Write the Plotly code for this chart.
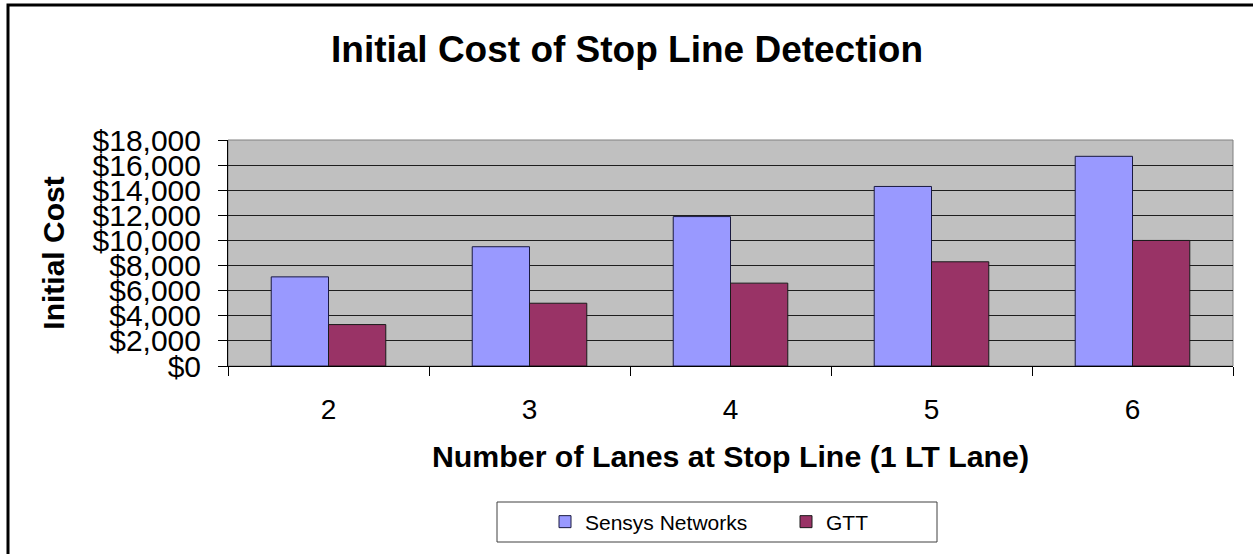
import plotly.graph_objects as go

categories = ["2", "3", "4", "5", "6"]
sensys_values = [7100, 9500, 11900, 14300, 16700]
gtt_values = [3300, 5000, 6600, 8300, 10000]
y_ticks = [0, 2000, 4000, 6000, 8000, 10000, 12000, 14000, 16000, 18000]

FONT = "Arial, Liberation Sans, sans-serif"

fig = go.Figure()
fig.add_trace(go.Bar(
    name="Sensys Networks", x=categories, y=sensys_values,
    marker=dict(color="#9999FF", line=dict(color="#1a1a40", width=1)),
))
fig.add_trace(go.Bar(
    name="GTT", x=categories, y=gtt_values,
    marker=dict(color="#993366", line=dict(color="#1a1a1a", width=1)),
))

W, H = 1253, 554
L, R, T, B = 228, 1233, 140, 366
pw, ph = R - L, B - T

def px(x):
    return (x - L) / pw

def py(y):
    return (B - y) / ph

fig.update_layout(
    width=W, height=H,
    margin=dict(l=L, r=W - R, t=T, b=H - B, autoexpand=False),
    paper_bgcolor="white",
    plot_bgcolor="#C0C0C0",
    barmode="group",
    bargap=0.43,
    bargroupgap=0,
    font=dict(family=FONT, color="black"),
    title=dict(
        text="<b>Initial Cost of Stop Line Detection</b>",
        x=627 / W, xanchor="center", xref="container",
        y=1 - 49 / H, yanchor="middle", yref="container",
        font=dict(size=37, family=FONT, color="black"),
    ),
    xaxis=dict(
        type="category",
        showline=True, linecolor="black", linewidth=1,
        ticks="outside", ticklen=9, tickcolor="black", tickson="boundaries",
        ticklabelstandoff=18,
        tickfont=dict(size=28, family=FONT, color="black"),
        title=dict(text="<b>Number of Lanes at Stop Line (1 LT Lane)</b>",
                   font=dict(size=30.3, family=FONT, color="black"), standoff=22),
        showgrid=False,
        automargin=False,
    ),
    yaxis=dict(
        range=[0, 18000],
        tickvals=y_ticks,
        tickformat="$,.0f",
        showline=True, linecolor="black", linewidth=1,
        ticks="outside", ticklen=9, tickcolor="black",
        ticklabelstandoff=11,
        tickfont=dict(size=30, family=FONT, color="black"),
        showgrid=True, gridcolor="#1e1e1e", gridwidth=1,
        zeroline=False,
        title=dict(text="<b>Initial Cost</b>",
                   font=dict(size=30, family=FONT, color="black"), standoff=19),
        automargin=False,
    ),
    showlegend=True,
    legend=dict(
        orientation="h",
        x=px(545), xanchor="left",
        y=py(522), yanchor="middle",
        bgcolor="rgba(0,0,0,0)", borderwidth=0,
        font=dict(size=21, family=FONT, color="black"),
        entrywidth=196, entrywidthmode="pixels",
        itemwidth=30,
        traceorder="normal",
    ),
    shapes=[
        dict(type="rect", xref="paper", yref="paper", x0=0, x1=1, y0=0, y1=1,
             line=dict(color="#808080", width=1), layer="below"),
        dict(type="rect", xref="paper", yref="paper",
             x0=px(497), x1=px(937), y0=py(542), y1=py(502),
             line=dict(color="#404040", width=1)),
        dict(type="rect", xref="paper", yref="paper",
             x0=px(8), x1=px(1262), y0=py(575), y1=py(5),
             line=dict(color="black", width=3)),
    ],
)

fig.write_html(
    "out.html",
    config={"displayModeBar": False},
    post_script="document.body.style.margin='0';document.body.style.padding='0';",
)
